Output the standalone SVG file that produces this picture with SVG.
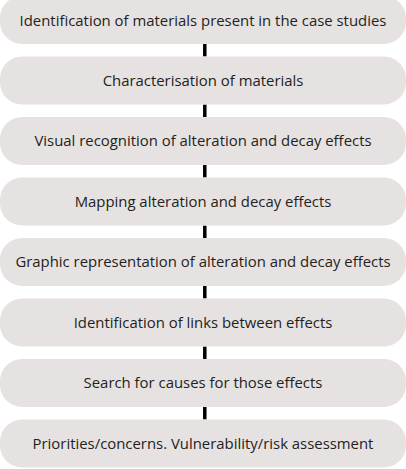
<svg xmlns="http://www.w3.org/2000/svg" width="406" height="469" viewBox="0 0 406 469">
<style>
.box{fill:#e7e2e2;}
.t{font-family:"Open Sans","Noto Sans",sans-serif;font-size:14.9px;fill:#231f20;text-anchor:middle;dominant-baseline:central;}
.c{stroke:#000;stroke-width:3.5;fill:none;}
</style>
<rect width="406" height="469" fill="#fff"/>
<g id="connectors">
<line class="c" x1="204.8" y1="44" x2="204.8" y2="56.5"/>
<line class="c" x1="204.8" y1="104.5" x2="204.8" y2="117"/>
<line class="c" x1="204.8" y1="165" x2="204.8" y2="177.5"/>
<line class="c" x1="204.8" y1="225.5" x2="204.8" y2="238"/>
<line class="c" x1="204.8" y1="286" x2="204.8" y2="298.5"/>
<line class="c" x1="204.8" y1="346.5" x2="204.8" y2="359"/>
<line class="c" x1="204.8" y1="407" x2="204.8" y2="419.5"/>
</g>
<g id="n1"><rect class="box" x="0" y="-4" width="406" height="48" rx="22"/><text class="t" x="203" y="19.5">Identification of materials present in the case studies</text></g>
<g id="n2"><rect class="box" x="0" y="56.5" width="406" height="48" rx="22"/><text class="t" x="203" y="79.5">Characterisation of materials</text></g>
<g id="n3"><rect class="box" x="0" y="117" width="406" height="48" rx="22"/><text class="t" x="203" y="140">Visual recognition of alteration and decay effects</text></g>
<g id="n4"><rect class="box" x="0" y="177.5" width="406" height="48" rx="22"/><text class="t" x="203" y="200.5">Mapping alteration and decay effects</text></g>
<g id="n5"><rect class="box" x="0" y="238" width="406" height="48" rx="22"/><text class="t" x="203" y="261">Graphic representation of alteration and decay effects</text></g>
<g id="n6"><rect class="box" x="0" y="298.5" width="406" height="48" rx="22"/><text class="t" x="203" y="321.5">Identification of links between effects</text></g>
<g id="n7"><rect class="box" x="0" y="359" width="406" height="48" rx="22"/><text class="t" x="203" y="382">Search for causes for those effects</text></g>
<g id="n8"><rect class="box" x="0" y="419.5" width="406" height="48" rx="22"/><text class="t" x="203" y="442.5">Priorities/concerns. Vulnerability/risk assessment</text></g>
</svg>
